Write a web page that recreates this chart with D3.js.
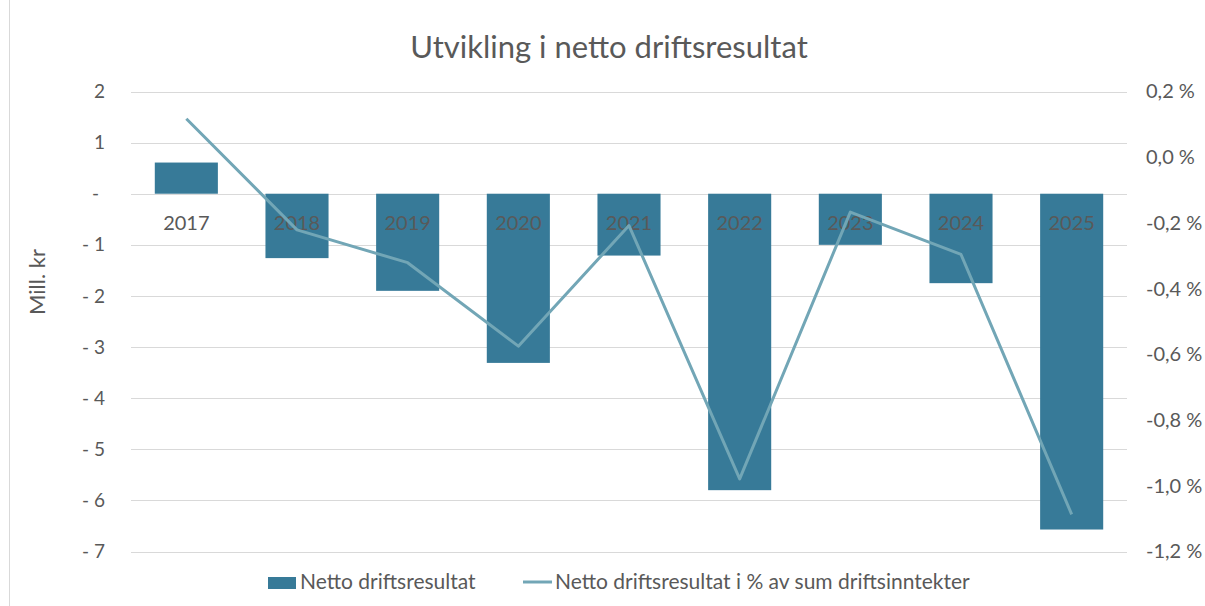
<!DOCTYPE html>
<html>
<head>
<meta charset="utf-8">
<script src="https://cdn.jsdelivr.net/npm/d3@7"></script>
<style>
  html, body { margin: 0; padding: 0; background: #fff; }
  svg { display: block; font-family: Lato, 'Noto Sans', sans-serif; }
</style>
</head>
<body>
<svg id="chart" width="1205" height="606"></svg>
<script>
'use strict';

// ── Data ────────────────────────────────────────────────────────────────
const years       = ['2017', '2018', '2019', '2020', '2021', '2022', '2023', '2024', '2025'];
const resultMill  = [0.61, -1.26, -1.90, -3.31, -1.21, -5.80, -1.00, -1.75, -6.57];
const resultPct   = [0.117, -0.221, -0.321, -0.575, -0.208, -0.979, -0.167, -0.296, -1.087];
const leftTicks   = [2, 1, 0, -1, -2, -3, -4, -5, -6, -7];
const rightTicks  = [0.2, 0.0, -0.2, -0.4, -0.6, -0.8, -1.0, -1.2];

const TEXT  = '#595959';
const GRID  = '#d9d9d9';
const BAR   = '#377a98';
const LINE  = '#72a6b6';

const svg = d3.select('#chart');

// ── Scales ──────────────────────────────────────────────────────────────
const X0 = 131, X1 = 1127;
const Y_TOP = 91.5, Y_BOT = 551.5;

const x = d3.scaleBand()
  .domain(years)
  .range([X0, X1])
  .paddingInner(0.43)
  .paddingOuter(0.215);

const yL = d3.scaleLinear().domain([-7, 2]).range([Y_BOT, Y_TOP]);
const yR = d3.scaleLinear().domain([-1.2, 0.2]).range([Y_BOT, Y_TOP]);

// chart border on the left edge
svg.append('line')
  .attr('x1', 9.5).attr('x2', 9.5)
  .attr('y1', 0).attr('y2', 606)
  .attr('stroke', GRID);

// ── Title ───────────────────────────────────────────────────────────────
svg.append('text')
  .attr('x', 609).attr('y', 58)
  .attr('text-anchor', 'middle')
  .attr('fill', TEXT)
  .attr('font-size', '31px')
  .text('Utvikling i netto driftsresultat');

// ── Gridlines (left axis ticks) ─────────────────────────────────────────
svg.append('g')
  .selectAll('line')
  .data(leftTicks)
  .join('line')
  .attr('x1', X0).attr('x2', X1)
  .attr('y1', d => Math.round(yL(d)) + 0.5)
  .attr('y2', d => Math.round(yL(d)) + 0.5)
  .attr('stroke', GRID)
  .attr('stroke-width', 1.2);

// ── Left axis ───────────────────────────────────────────────────────────
const fmtLeft = d => d === 0 ? '-' : (d < 0 ? '- ' + Math.abs(d) : String(d));

const leftAxis = d3.axisLeft(yL)
  .tickValues(leftTicks)
  .tickSize(0)
  .tickPadding(0)
  .tickFormat(fmtLeft);

svg.append('g')
  .attr('transform', `translate(105, 0)`)
  .call(leftAxis)
  .call(ax => ax.select('.domain').remove())
  .call(ax => ax.selectAll('text')
    .attr('fill', TEXT)
    .attr('font-size', '19px')
    .attr('font-family', "Lato, 'Noto Sans', sans-serif")
    .attr('dx', d => d === 0 ? '-6px' : 0));

// ── Right axis ──────────────────────────────────────────────────────────
const fmtRight = d => d3.format('.1f')(d).replace('.', ',').replace('−', '-') + ' %';

const rightAxis = d3.axisRight(yR)
  .tickValues(rightTicks)
  .tickSize(0)
  .tickPadding(0)
  .tickFormat(fmtRight);

svg.append('g')
  .attr('transform', `translate(1146, 0)`)
  .call(rightAxis)
  .call(ax => ax.select('.domain').remove())
  .call(ax => ax.selectAll('text')
    .attr('fill', TEXT)
    .attr('font-size', '20px')
    .attr('font-family', "Lato, 'Noto Sans', sans-serif"));

// axis title
svg.append('text')
  .attr('transform', 'translate(45, 282) rotate(-90)')
  .attr('text-anchor', 'middle')
  .attr('fill', TEXT)
  .attr('font-size', '22px')
  .text('Mill. kr');

// ── Bars ────────────────────────────────────────────────────────────────
svg.append('g')
  .selectAll('rect')
  .data(years)
  .join('rect')
  .attr('x', d => x(d))
  .attr('width', x.bandwidth())
  .attr('y', (d, i) => yL(Math.max(0, resultMill[i])))
  .attr('height', (d, i) => Math.abs(yL(resultMill[i]) - yL(0)))
  .attr('fill', BAR);

// ── Category labels (sit on the zero line) ──────────────────────────────
svg.append('g')
  .selectAll('text')
  .data(years)
  .join('text')
  .attr('x', d => x(d) + x.bandwidth() / 2)
  .attr('y', yL(0) + 36)
  .attr('text-anchor', 'middle')
  .attr('fill', TEXT)
  .attr('font-size', '20px')
  .text(d => d);

// ── Line (right axis) ───────────────────────────────────────────────────
const line = d3.line()
  .x((d, i) => x(years[i]) + x.bandwidth() / 2)
  .y(d => yR(d));

svg.append('path')
  .datum(resultPct)
  .attr('d', line)
  .attr('fill', 'none')
  .attr('stroke', LINE)
  .attr('stroke-width', 3)
  .attr('stroke-linejoin', 'round');

// ── Legend ──────────────────────────────────────────────────────────────
const leg = svg.append('g').attr('font-size', '21px').attr('fill', TEXT);

leg.append('rect')
  .attr('x', 268).attr('y', 577)
  .attr('width', 28).attr('height', 12)
  .attr('fill', BAR);
leg.append('text')
  .attr('x', 300).attr('y', 589)
  .text('Netto driftsresultat');

leg.append('line')
  .attr('x1', 523).attr('x2', 552)
  .attr('y1', 582).attr('y2', 582)
  .attr('stroke', LINE)
  .attr('stroke-width', 3);
leg.append('text')
  .attr('x', 555).attr('y', 589)
  .text('Netto driftsresultat i % av sum driftsinntekter');
</script>
</body>
</html>
